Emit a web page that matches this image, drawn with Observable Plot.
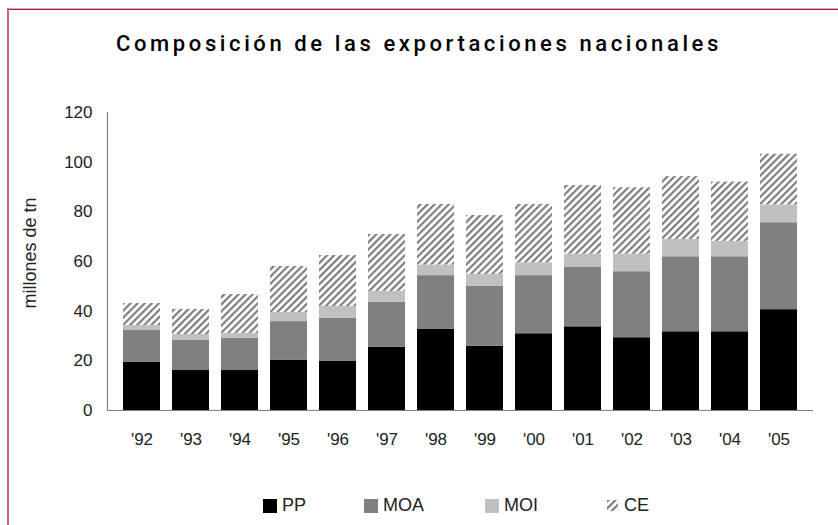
<!DOCTYPE html>
<html>
<head>
<meta charset="utf-8">
<script src="https://cdn.jsdelivr.net/npm/d3@7"></script>
<script src="https://cdn.jsdelivr.net/npm/@observablehq/plot@0.6"></script>
<style>
  html, body { margin: 0; padding: 0; background: #fff; }
  body { width: 838px; height: 525px; position: relative; overflow: hidden; font-family: "Liberation Sans", Helvetica, Arial, sans-serif; }
  #frameTop { position: absolute; left: 7px; top: 8px; width: 831px; height: 1px; background: #e7a6c4; border-bottom: 1px solid #a3154e; }
  #frameLeft { position: absolute; left: 7px; top: 8px; width: 2px; height: 517px; background: #d1609a; }
  #title { position: absolute; left: 0; width: 838px; top: 31px; text-align: center; font-family: Roboto, "Liberation Sans", sans-serif; font-size: 22px; font-weight: 500; letter-spacing: 3.6px; color: #000; }
  #chart { position: absolute; left: 0; top: 100px; }
  #ylabel { position: absolute; left: 30px; top: 253px; transform: translate(-50%, -50%) rotate(-90deg); font-size: 18px; color: #222; white-space: nowrap; }
  .leg { position: absolute; top: 495px; font-size: 18px; color: #222; display: flex; align-items: center; }
  .sw { display: inline-block; width: 14px; height: 14px; margin-right: 5px; }
</style>
</head>
<body>
<div id="frameTop"></div>
<div id="frameLeft"></div>
<div id="title">Composición de las exportaciones nacionales</div>
<div id="ylabel">millones de tn</div>
<div id="chart"></div>
<div id="legend"></div>
<script>
const years = ["'92","'93","'94","'95","'96","'97","'98","'99","'00","'01","'02","'03","'04","'05"];
const series = ["PP","MOA","MOI","CE"];
const PP  = [19.5,16.1,16.1,20.3,19.9,25.5,32.8,25.9,30.9,33.7,29.3,31.7,31.7,40.6];
const MOA = [12.7,12.1,13.0,15.5,17.2,18.1,21.5,24.2,23.4,24.1,26.6,30.2,30.2,35.0];
const MOI = [2.0,2.4,2.0,3.7,4.8,4.4,4.3,4.7,5.2,5.2,7.1,7.0,6.2,7.2];
const CE  = [8.9,10.1,15.6,18.5,20.5,22.9,24.4,23.7,23.5,27.6,26.7,25.3,23.9,20.4];
const yTicks = [0,20,40,60,80,100,120];

const colors = {PP: "#000000", MOA: "#808080", MOI: "#c0c0c0", CE: "url(#hatchCE)"};
const valuesBy = {PP, MOA, MOI, CE};
const data = [];
series.forEach(s => years.forEach((y, i) => data.push({year: y, serie: s, value: valuesBy[s][i]})));

const plot = Plot.plot({
  width: 838,
  height: 360,
  marginLeft: 107,
  marginRight: 25,
  marginTop: 12,
  marginBottom: 50,
  style: {fontFamily: "'Liberation Sans', Helvetica, Arial, sans-serif", fontSize: "17px", color: "#222", background: "transparent"},
  x: {domain: years, padding: 0.24, label: null},
  y: {domain: [0, 120], label: null},
  marks: [
    Plot.barY(data, {x: "year", y: "value", fill: d => colors[d.serie], order: series}),
    Plot.axisX({tickSize: 0, tickPadding: 22, fontSize: 17, label: null}),
    Plot.axisY({ticks: yTicks, tickSize: 0, tickPadding: 15, fontSize: 17, label: null}),
    Plot.ruleY([0], {stroke: "#808080", strokeWidth: 1.2}),
    Plot.frame({anchor: "left", stroke: "#808080", strokeWidth: 1.2})
  ]
});

// hatch pattern definition
const ns = "http://www.w3.org/2000/svg";
function addPattern(svg, id) {
  const defs = document.createElementNS(ns, "defs");
  const pat = document.createElementNS(ns, "pattern");
  pat.setAttribute("id", id);
  pat.setAttribute("patternUnits", "userSpaceOnUse");
  pat.setAttribute("width", "5");
  pat.setAttribute("height", "5");
  pat.setAttribute("patternTransform", "rotate(45)");
  const bg = document.createElementNS(ns, "rect");
  bg.setAttribute("width", "5"); bg.setAttribute("height", "5"); bg.setAttribute("fill", "#ffffff");
  const ln = document.createElementNS(ns, "rect");
  ln.setAttribute("x", "0"); ln.setAttribute("y", "0");
  ln.setAttribute("width", "2.2"); ln.setAttribute("height", "5");
  ln.setAttribute("fill", "#7e7e7e");
  pat.appendChild(bg); pat.appendChild(ln);
  defs.appendChild(pat);
  svg.insertBefore(defs, svg.firstChild);
}
addPattern(plot, "hatchCE");
document.getElementById("chart").appendChild(plot);

// legend
const legendX = {PP: 263, MOA: 364, MOI: 485, CE: 607};
const legend = document.getElementById("legend");
series.forEach(s => {
  const d = document.createElement("div");
  d.className = "leg";
  d.style.left = legendX[s] + "px";
  if (s === "CE") {
    const sv = document.createElementNS(ns, "svg");
    sv.setAttribute("width", "11"); sv.setAttribute("height", "11");
    sv.style.marginRight = "6px";
    addPattern(sv, "hatchLeg");
    const r = document.createElementNS(ns, "rect");
    r.setAttribute("width", "11"); r.setAttribute("height", "11");
    r.setAttribute("fill", "url(#hatchLeg)");
    sv.appendChild(r);
    d.appendChild(sv);
  } else {
    const sw = document.createElement("span");
    sw.className = "sw";
    sw.style.background = colors[s];
    d.appendChild(sw);
  }
  const t = document.createElement("span");
  t.textContent = s;
  d.appendChild(t);
  legend.appendChild(d);
});
</script>
</body>
</html>
